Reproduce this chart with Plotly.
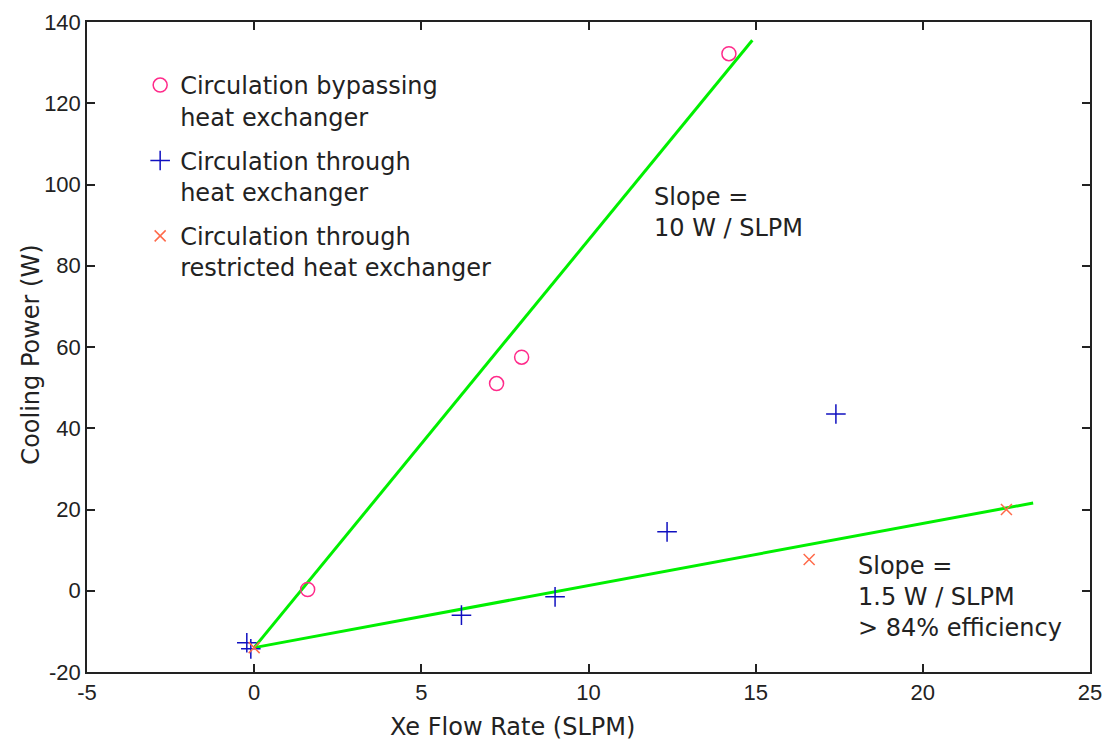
import plotly.graph_objects as go

# Data
bypass_x = [1.6, 7.25, 8.0, 14.2]
bypass_y = [0.3, 51.0, 57.5, 132.2]

through_x = [-0.22, -0.1, 6.2, 9.0, 12.35, 17.4]
through_y = [-12.8, -14.3, -6.0, -1.5, 14.5, 43.5]

restricted_x = [0.0, 16.6, 22.5]
restricted_y = [-14.0, 7.7, 20.0]

fit1_x = [0.0, 14.9]
fit1_y = [-14.0, 135.5]
fit2_x = [0.0, 23.3]
fit2_y = [-14.0, 21.6]

x_ticks = [-5, 0, 5, 10, 15, 20, 25]
x_ticktext = ["-5", "0", "5", "10", "15", "20", "25"]
y_ticks = [-20, 0, 20, 40, 60, 80, 100, 120, 140]
y_ticktext = ["-20", "0", "20", "40", "60", "80", "100", "120", "140"]

FONT = "DejaVu Sans, Liberation Sans, sans-serif"
TICKFONT = "Liberation Sans, Arial, sans-serif"
TXT = "#222222"

fig = go.Figure()
fig.add_trace(go.Scatter(x=fit1_x, y=fit1_y, mode="lines",
                         line=dict(color="#00f000", width=3), showlegend=False))
fig.add_trace(go.Scatter(x=fit2_x, y=fit2_y, mode="lines",
                         line=dict(color="#00f000", width=3), showlegend=False))
fig.add_trace(go.Scatter(x=bypass_x, y=bypass_y, mode="markers",
                         name="Circulation bypassing<br>heat exchanger", legendgroup="a",
                         marker=dict(symbol="circle-open", size=14, color="#ff2a8a",
                                     line=dict(width=1.5))))
fig.add_trace(go.Scatter(x=through_x, y=through_y, mode="markers",
                         name="Circulation through<br>heat exchanger", legendgroup="b",
                         marker=dict(symbol="cross-thin-open", size=14, color="#1010c0",
                                     line=dict(width=1.5, color="#1010c0"))))
fig.add_trace(go.Scatter(x=restricted_x, y=restricted_y, mode="markers",
                         name="Circulation through<br>restricted heat exchanger", legendgroup="c",
                         marker=dict(symbol="x-thin-open", size=11, color="#ff6a4a",
                                     line=dict(width=1.5, color="#ff6a4a"))))

fig.add_annotation(x=11.9, y=100.8, xref="x", yref="y", text="Slope =<br>10 W / SLPM",
                   showarrow=False, xanchor="left", yanchor="top", align="left",
                   font=dict(family=FONT, size=24, color=TXT))
fig.add_annotation(x=18.0, y=10.0, xref="x", yref="y",
                   text="Slope =<br>1.5 W / SLPM<br>> 84% efficiency",
                   showarrow=False, xanchor="left", yanchor="top", align="left",
                   font=dict(family=FONT, size=24, color=TXT))

# axis titles (placed as in the reference)
fig.add_annotation(x=0.424, y=-0.0846, xref="paper", yref="paper",
                   text="Xe Flow Rate (SLPM)", showarrow=False,
                   xanchor="center", yanchor="middle",
                   font=dict(family=FONT, size=24, color=TXT))
fig.add_annotation(x=-0.056, y=0.488, xref="paper", yref="paper",
                   text="Cooling Power (W)", showarrow=False, textangle=-90,
                   xanchor="center", yanchor="middle",
                   font=dict(family=FONT, size=24, color=TXT))

axis_common = dict(showline=True, linecolor="#222", linewidth=1.5, mirror="ticks",
                   ticks="inside", ticklen=8, tickcolor="#222", tickwidth=1.5,
                   showgrid=False, zeroline=False, automargin=False,
                   tickfont=dict(family=TICKFONT, size=22, color=TXT))

fig.update_xaxes(range=[-5, 25], tickvals=x_ticks, ticktext=x_ticktext, **axis_common)
fig.update_yaxes(range=[-20, 140], tickvals=y_ticks, ticktext=y_ticktext, **axis_common)

fig.update_layout(
    width=1116, height=744,
    margin=dict(l=87, r=26, t=22, b=72),
    paper_bgcolor="white", plot_bgcolor="white",
    showlegend=True,
    legend=dict(x=0.053, y=0.937, xanchor="left", yanchor="top",
                bgcolor="rgba(0,0,0,0)", borderwidth=0,
                font=dict(family=FONT, size=24, color=TXT),
                tracegroupgap=10, valign="top", itemwidth=30),
)

fig.write_html("out.html")
